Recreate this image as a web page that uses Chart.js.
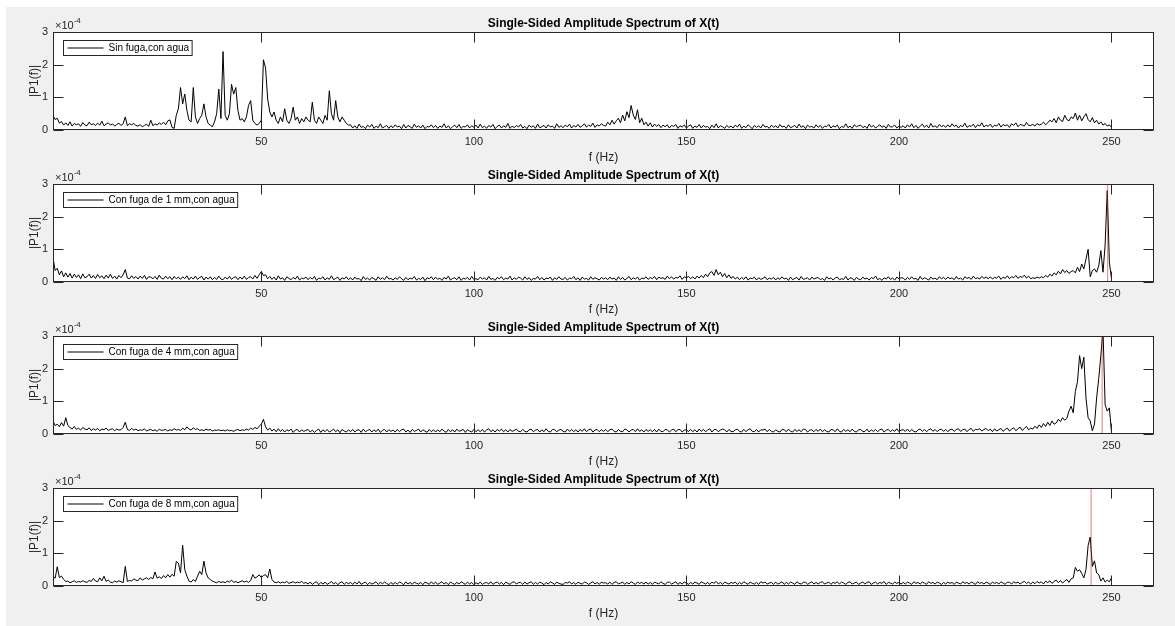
<!DOCTYPE html>
<html>
<head>
<meta charset="utf-8">
<script src="https://cdn.jsdelivr.net/npm/chart.js@4.4.1/dist/chart.umd.min.js"></script>
<style>
  html, body { margin: 0; padding: 0; background: #fff; overflow: hidden; }
  #fig { position: absolute; left: 6px; top: 7px; width: 1169px; height: 619px; background: #f0f0f0; }
  canvas { position: absolute; left: 0; }
</style>
</head>
<body>
<div id="fig"></div>
<canvas id="c0" width="1175" height="170" style="top:0px"></canvas>
<canvas id="c1" width="1175" height="170" style="top:152px"></canvas>
<canvas id="c2" width="1175" height="170" style="top:304px"></canvas>
<canvas id="c3" width="1175" height="170" style="top:456px"></canvas>
<script>
// frequency grid of the spectra (Hz)
const freqStart = 1;
const freqStep = 0.5;

// axis setup
const xMin = 1, xMax = 260;
const xTicks = [50, 100, 150, 200, 250];
const yMax = 30;                 // amplitudes below are in units of 1e-5
const yTicks = [0, 10, 20, 30];  // shown as 0..3 x10^-4

const plotTitle = "Single-Sided Amplitude Spectrum of X(t)";
const legendLabels = [
    "Sin fuga,con agua",
    "Con fuga de 1 mm,con agua",
    "Con fuga de 4 mm,con agua",
    "Con fuga de 8 mm,con agua"
];

// red marker line (Hz) per subplot, none on the first one
const markerFreq = [null, 249.1, 247.8, 245.2];

// |P1(f)| x1e-5, one row = 10 Hz (20 values), starting at 1 Hz
const sinFuga = [
    4.5,3.2,3.6,2.1,2.6,1.5,2.2,1.4,2.5,1.2,2.0,1.6,1.9,1.1,2.3,1.5,1.3,2.4,1.6,1.9,
    1.4,2.1,1.5,2.7,1.3,1.8,2.2,1.5,1.9,1.2,1.7,2.1,1.4,1.9,4.0,1.3,1.9,1.6,2.0,1.4,
    1.2,1.6,1.0,1.4,1.8,1.1,3.0,1.3,1.9,1.5,2.2,1.7,2.4,1.6,2.8,3.1,0.8,0.5,4.5,6.5,
    13,8,11,6,3,2.5,13,4,2,3.5,4.5,8,4,2,1.5,1,2.5,5,12.5,3.5,
    24,4.5,3,5,14,11,13,6,3,3.5,2.5,4,7.5,9,3,2,1.5,2,3,21.5,
    19,9.5,5.5,4,5.5,3,2,4,2.5,6.5,3,2,3.5,7,3,4,2,3.5,2.5,4,
    3,2.5,8.5,3,2,4,3,2,4.5,3,12,5,3,9,4,2.5,4,3,2,1.5,
    1.6,0.6,1.3,0.5,1.8,0.8,1.1,0.4,1.5,0.9,1.7,0.5,1.2,0.7,1.9,0.6,1.0,1.4,0.5,1.3,
    0.7,1.6,0.9,1.2,0.4,1.7,0.6,1.4,1.0,0.5,1.8,0.8,1.3,0.6,1.5,0.4,1.1,0.9,1.6,0.7,
    1.4,0.5,1.2,0.8,1.9,0.6,1.3,0.4,1.0,1.5,0.7,1.7,0.5,1.1,0.9,1.6,0.6,1.3,0.8,1.5,
    0.6,1.8,0.7,1.2,0.5,1.4,0.9,1.7,0.4,1.1,1.5,0.6,1.3,0.8,2.0,0.5,1.2,0.7,1.4,0.9,
    1.7,0.6,1.1,0.4,1.5,0.8,1.3,0.5,1.8,0.7,1.0,1.4,0.6,1.6,0.9,1.2,0.5,1.9,0.8,1.3,
    0.7,1.5,1.0,1.8,0.6,1.4,0.9,1.7,0.8,1.3,1.9,0.9,1.5,1.1,2.1,0.8,1.6,1.2,1.9,1.4,
    1.2,2.4,1.6,3.0,1.8,2.8,3.6,2.2,4.6,2.8,5.6,3.8,7.5,4.6,3.2,6.2,2.2,3.6,1.6,2.4,
    1.2,2.2,0.9,1.8,1.1,1.7,0.7,1.5,1.0,1.6,0.6,1.4,1.1,1.7,0.5,1.3,0.9,1.5,0.6,1.2,
    1.6,0.5,1.2,0.8,1.7,0.6,1.4,0.9,1.1,0.4,1.5,0.7,1.9,0.6,1.3,1.0,0.5,1.4,0.8,1.2,
    0.6,1.5,0.9,1.8,0.5,1.2,0.7,1.6,1.0,0.4,1.4,0.8,1.3,0.6,1.7,0.9,1.1,0.5,1.5,0.8,
    1.3,0.6,1.7,0.9,1.2,0.5,1.6,0.7,1.0,1.4,0.6,1.8,0.8,1.3,0.4,1.5,0.9,1.1,0.6,1.6,
    0.8,1.4,0.5,1.2,1.0,1.7,0.6,1.3,0.9,1.5,0.4,1.1,0.8,1.9,0.7,1.2,0.5,1.6,1.0,1.3,
    1.5,0.7,1.2,0.5,1.8,0.9,1.4,0.6,1.1,1.6,0.8,1.3,0.5,1.7,0.9,1.0,1.5,0.6,1.2,0.8,
    1.3,0.6,1.6,0.9,1.9,0.7,1.4,0.5,1.2,1.8,0.8,1.5,0.6,2.0,0.9,1.3,0.7,1.7,1.0,1.4,
    0.8,1.6,0.9,1.9,1.1,1.5,0.6,1.4,1.0,2.1,0.8,1.3,1.1,1.8,0.7,1.6,1.2,2.2,0.9,1.5,
    1.1,1.8,0.8,1.5,1.2,2.0,0.9,1.7,1.3,1.6,0.8,1.9,1.4,2.2,1.0,1.7,1.5,1.2,2.3,1.4,
    1.4,1.7,1.2,2,1.5,1.8,2.4,1.6,2.2,3,2.5,3.5,2.2,4,3,2.6,4.5,3.2,2.8,4,
    3.5,5.2,3,4.5,2.8,4,5,3.2,2.5,3.8,2.2,3,1.8,2.5,1.5,2,1.2,1.6,0.8
];

const fuga1mm = [
    7.5,3.5,4.2,2.2,3.4,1.6,2.8,1.5,2.6,1.2,2.4,1.4,2.2,1.0,2.5,1.3,1.6,2.4,1.2,2.0,
    1.1,2.3,1.3,1.9,1.0,2.1,1.2,2.4,1.1,1.8,0.9,2.0,1.3,2.2,3.8,1.2,1.0,1.9,1.1,1.7,
    0.9,1.8,1.1,2.0,0.8,1.6,1.5,1.0,1.7,0.8,2.1,1.1,0.9,1.8,1.0,1.6,0.7,1.7,1.0,1.5,
    0.8,1.6,1.0,1.9,0.7,1.5,0.9,1.8,0.8,1.4,1.7,0.6,1.5,0.9,1.6,0.7,1.4,0.8,1.8,0.9,
    0.7,1.5,0.9,1.7,0.8,1.4,1.6,0.7,1.5,0.9,1.8,0.8,1.4,1.6,0.9,2.0,1.1,2.2,3.2,2.0,
    2.2,1.0,1.7,0.8,1.5,0.6,1.9,0.9,1.3,0.5,1.6,1.1,0.7,1.4,0.9,1.8,0.6,1.2,1.0,1.5,
    0.7,1.4,0.9,1.7,0.5,1.2,1.0,1.6,0.6,1.3,0.8,1.9,0.7,1.1,1.5,0.5,1.3,0.9,1.6,0.7,
    1.3,0.6,1.5,0.9,1.1,0.4,1.7,0.8,1.2,0.6,1.4,1.0,0.5,1.6,0.8,1.3,0.7,1.8,0.9,1.1,
    0.6,1.3,0.8,1.6,1.0,0.5,1.4,0.7,1.2,0.9,1.7,0.6,1.1,0.8,1.5,0.4,1.3,1.0,1.6,0.7,
    1.5,0.8,1.2,0.5,1.4,0.9,1.8,0.6,1.1,1.3,0.7,1.6,0.5,1.2,0.9,1.4,0.6,1.7,0.8,1.0,
    0.7,1.5,0.9,1.3,0.6,1.7,0.8,1.1,0.5,1.4,1.0,1.6,0.7,1.2,0.9,1.8,0.6,1.3,0.8,1.5,
    1.2,0.6,1.6,0.8,1.3,0.5,1.1,0.9,1.7,0.7,1.4,0.6,1.2,1.0,1.5,0.5,1.3,0.8,1.6,0.9,
    0.8,1.4,0.6,1.2,1.0,1.7,0.7,1.3,0.5,1.5,0.9,1.1,0.6,1.6,0.8,1.3,1.0,0.6,1.4,0.9,
    1.3,0.7,1.5,0.9,1.2,0.5,1.6,0.8,1.4,0.6,1.1,1.7,0.7,1.3,0.9,1.5,0.6,1.2,1.0,1.6,
    0.8,1.4,1.0,1.7,0.7,1.5,1.1,1.3,0.8,1.8,1.0,1.6,0.9,1.4,1.2,1.9,0.8,1.6,1.3,1.7,
    1.0,1.6,0.9,1.8,1.2,2.0,1.3,2.4,1.6,2.8,3.2,2.0,3.8,2.2,3.0,1.6,2.6,1.3,2.2,1.1,
    1.7,0.9,1.5,0.7,1.4,0.8,1.6,0.6,1.2,1.0,1.5,0.6,1.3,0.8,1.1,1.6,0.7,1.2,0.9,1.4,
    0.6,1.3,0.8,1.6,0.9,1.2,0.5,1.5,0.7,1.1,1.4,0.6,1.7,0.8,1.0,1.3,0.6,1.5,0.9,1.2,
    1.4,0.7,1.1,0.5,1.6,0.9,1.3,0.6,1.2,1.5,0.7,1.0,0.8,1.7,0.6,1.3,1.1,0.5,1.4,0.9,
    0.7,1.5,0.9,1.2,0.6,1.4,1.0,1.8,0.7,1.1,0.5,1.3,0.9,1.6,0.8,1.2,0.6,1.5,1.0,1.3,
    1.2,0.6,1.4,0.8,1.6,0.9,1.1,0.5,1.7,0.8,1.3,1.0,0.6,1.5,0.9,1.2,0.7,1.6,1.0,1.4,
    0.8,1.5,1.0,1.3,0.7,1.7,0.9,1.2,0.6,1.6,1.1,1.4,0.8,1.8,1.0,1.3,0.9,1.7,1.1,1.5,
    1.0,1.6,0.9,1.4,1.2,1.8,0.8,1.5,1.1,1.9,1.0,1.6,1.3,2.0,1.1,1.7,1.4,2.1,1.2,1.8,
    1,1.3,1.1,1.5,1.2,1.6,1.3,2,1.5,2.4,1.8,2.8,2.2,3.3,2.5,3.8,2.9,3.5,2.6,3.2,
    3.5,2.8,4.5,3.2,5.5,4,7,10,1.6,3.5,4,3,5,9.6,3,11.3,28,6,1
];

const fuga4mm = [
    4,2.6,3,2.2,3.5,2.4,5,2.6,2,1.5,2.3,1.4,1.8,1.2,2,1.5,1.3,1.9,1.1,1.6,
    1.2,1.7,1,1.5,1.3,1.8,1.1,1.4,1.6,1,1.5,1.2,1.3,2,3.6,1.4,1.1,1.7,1.2,1.5,
    1,1.3,1.1,1.6,0.9,1.2,1.4,1,1.3,0.8,1.5,1.1,1.2,1.4,0.9,1.3,1.1,1.6,1.2,1.4,
    1.1,1.8,1.3,2.2,1.5,1.2,1.9,1.4,1.6,1.1,1.3,1,1.5,1.2,1.4,0.9,1.2,1.1,1.3,1,
    1.2,0.9,1.3,1,1.1,0.8,1.2,1.4,1,1.3,1.1,1.5,1.2,1.8,1.4,2,1.6,2.4,3,4.5,
    2.2,1.2,1.8,0.9,1.5,0.7,1.6,0.8,1.4,0.6,1.3,0.9,1.5,0.5,1.2,1.4,0.6,1.3,0.8,1.1,
    1.4,0.6,1.2,0.5,1.1,1.5,0.5,1.3,0.7,1.4,0.6,1.0,1.5,0.7,1.3,0.4,1.4,0.9,0.6,1.3,
    0.7,1.4,0.6,1.2,1.3,0.5,1.5,0.7,1.1,1.4,0.6,1.3,0.7,1.5,0.5,1.1,1.4,0.6,1.3,0.8,
    1.2,0.6,1.4,0.7,1.3,1.5,0.6,1.2,0.5,1.4,0.8,1.1,1.5,0.6,1.3,0.9,0.5,1.4,0.7,1.3,
    0.6,1.3,0.7,1.5,0.9,0.5,1.4,0.7,1.3,0.6,1.5,0.8,1.1,1.4,0.5,1.3,0.9,0.6,1.4,0.7,
    1.3,0.7,1.4,0.6,1.2,1.6,0.7,1.3,0.6,1.4,0.9,1.5,0.7,1.3,0.6,1.4,0.8,1.1,1.5,0.8,
    0.7,1.4,0.8,0.6,1.3,1.5,0.7,1.2,1.4,0.6,1.3,0.7,1.6,0.8,0.6,1.4,1.3,0.7,1.2,1.4,
    0.8,0.6,1.5,0.8,1.4,0.7,1.3,0.6,1.4,0.8,1.6,0.7,1.3,1.5,0.6,1.2,1.4,0.7,1.3,0.8,
    1.4,0.7,1.3,1.5,0.8,0.6,1.4,0.8,0.7,1.5,1.3,0.6,1.2,1.4,0.7,1.6,0.8,1.3,0.6,1.4,
    0.8,1.3,0.7,1.4,0.6,1.5,0.8,0.7,1.4,1.3,0.6,1.2,1.5,0.7,1.3,1.4,0.6,1.2,1.3,0.7,
    1.4,0.7,1.3,0.6,1.5,0.8,1.4,0.7,1.2,1.6,0.6,1.3,1.4,0.7,1.2,1.5,1.3,0.6,1.4,0.8,
    0.7,1.3,1.5,0.8,0.6,1.4,0.7,1.3,1.6,0.8,0.7,1.4,0.6,1.3,1.2,1.5,0.7,1.4,0.8,0.6,
    1.3,0.8,0.6,1.4,1.3,0.7,1.5,0.8,0.6,1.4,0.8,1.3,0.7,1.5,1.4,0.6,1.2,1.3,0.7,1.4,
    0.8,1.5,0.7,1.3,0.8,0.6,1.4,1.3,0.7,1.6,0.8,0.6,1.4,0.8,1.3,0.7,1.5,0.8,0.6,1.3,
    1.4,0.7,0.8,1.5,0.6,1.3,0.8,1.4,0.7,1.3,1.5,0.6,1.2,1.4,0.7,1.3,0.8,1.6,0.7,1.2,
    1.3,0.8,1.5,0.7,1.4,0.8,0.6,1.3,1.5,0.8,1.4,0.7,1.3,1.6,0.8,1.4,0.7,1.3,1.5,0.8,
    1.4,0.7,1.3,1.5,0.8,1.4,1.6,0.8,1.3,1.5,0.7,1.4,1.7,0.8,1.5,1.3,1.6,0.9,1.4,1.7,
    1.0,1.5,0.7,1.6,0.9,1.3,1.7,0.8,1.4,1.8,0.9,1.5,1.9,1.0,1.6,2.1,1.1,1.7,2.3,1.3,
    1.8,1.5,2.4,1.7,2.8,2,3.2,2.3,3.6,2.6,4,3,3.4,4.5,3.8,5,4.2,4.8,7,8.5,
    6.5,13,16,24,20,23.5,11,5,4,1,3,11,17,24,32,9,7,8,0.5
];

const fuga8mm = [
    3,2.4,5.9,2.6,3,2,1.4,1.5,1,1.3,1.6,1.1,1.4,1.2,1.6,1.3,1.1,1.7,1.4,2.3,
    1.5,1.3,2.5,1.6,3,1.4,1.8,1.2,1,1.5,1.2,1.6,1.3,1,6,1.4,1.7,1.5,2.2,1.8,
    1.6,2.5,1.8,2.2,2.5,2,2.6,2.2,4.3,2.4,2.8,2.3,3.2,2.5,3.5,2.7,3.6,3,7.5,7,
    4,12.5,5,3,1.5,1.2,2,1.4,3,4.5,3.5,7.6,4,2.5,2,1.5,1.2,1,1.4,1.1,
    1.3,1,1.5,1.2,1.8,1.1,1.4,1,1.3,1.6,1.2,1.5,1.1,1.7,3.5,2.4,2.8,3.4,2.6,3.2,
    3.5,2.5,5.2,2,1.2,1,1.3,0.9,1.2,1,1.4,0.8,1.1,1.3,0.9,1.2,1,1.4,0.8,1.1,
    0.6,1.2,0.5,1.0,1.3,0.4,1.1,0.6,1.2,0.5,0.9,1.4,0.6,1.1,0.4,1.0,1.3,0.5,1.1,0.7,
    1.1,0.5,1.2,0.6,1.4,0.5,0.9,1.2,0.4,1.1,0.6,0.9,1.3,0.5,1.1,0.7,1.2,0.8,0.4,1.1,
    0.5,1.1,0.6,1.2,0.9,0.4,1.3,0.6,1.1,0.5,1.2,0.8,0.6,1.1,0.4,1.2,0.9,0.5,1.3,0.6,
    1.2,0.5,0.9,1.3,0.6,1.1,0.4,1.2,0.8,0.5,1.1,0.6,1.3,0.9,0.5,1.2,0.6,1.1,0.4,1.0,
    0.6,1.2,0.5,0.9,1.1,0.6,1.3,0.5,1.0,1.2,0.6,1.1,0.4,1.2,0.8,0.5,1.1,1.3,0.6,1.0,
    1.1,0.5,1.2,0.6,1.0,1.3,0.5,1.1,0.6,1.2,0.9,0.4,1.1,0.6,1.3,0.9,0.5,1.2,0.8,0.6,
    0.5,1.1,0.9,1.3,0.6,1.1,0.5,1.2,0.8,0.6,1.2,1.0,0.5,0.9,1.3,0.6,1.1,0.5,1.2,0.9,
    1.0,0.6,1.2,0.5,1.1,1.3,0.6,0.9,1.2,0.5,1.1,0.6,1.3,0.9,0.5,1.2,0.8,1.1,0.6,1.2,
    0.6,1.1,0.5,1.2,0.9,0.6,1.3,0.8,0.5,1.1,1.2,0.6,0.9,1.3,0.5,1.1,0.6,1.2,0.9,0.5,
    1.1,0.6,1.2,0.9,0.5,1.3,0.9,0.6,1.1,0.5,1.2,0.8,1.4,0.6,1.1,0.5,1.2,0.9,0.6,1.1,
    0.8,1.2,0.5,1.1,0.6,1.3,0.9,0.5,1.2,0.8,0.6,1.1,0.5,1.3,0.9,1.2,0.6,0.9,1.1,0.5,
    1.2,0.6,0.9,1.3,0.5,1.1,0.6,1.2,0.9,0.5,1.3,0.8,0.6,1.1,1.2,0.5,0.9,1.3,0.6,1.1,
    0.6,1.1,1.3,0.6,0.9,1.2,0.5,1.1,0.8,1.3,0.6,1.2,0.9,0.5,1.1,1.3,0.6,0.9,1.2,0.5,
    0.9,1.2,0.6,1.1,1.3,0.5,0.9,1.2,0.6,1.1,0.8,1.4,0.5,1.1,0.9,0.6,1.2,0.8,1.1,0.6,
    1.1,0.6,1.2,0.9,0.5,1.3,0.8,1.1,0.6,1.2,0.9,0.5,1.3,0.8,1.1,0.6,1.2,0.9,0.5,1.1,
    0.6,1.2,0.8,1.1,0.5,1.2,0.9,0.6,1.3,0.8,1.1,0.6,1.2,0.9,0.5,1.3,0.8,1.1,0.6,1.2,
    0.9,0.5,1.2,0.8,1.1,0.6,1.3,0.9,0.5,1.2,1.1,0.6,1.3,0.9,1.2,0.6,1.1,1.4,0.8,1.2,
    0.6,1.2,0.7,1.4,0.9,1.3,0.6,1.5,1.0,1.6,0.8,1.4,1.8,1.0,1.7,0.9,1.5,2.0,1.1,2.2,
    2.5,5.7,4.5,5,3.8,2.5,5,12.4,15,6,7.7,4,3.5,1.5,2.5,1.2,1.8,1.3,2.5
];

const spectra = [sinFuga, fuga1mm, fuga4mm, fuga8mm];

const fontFamily = 'Arial, "Liberation Sans", Helvetica, sans-serif';
const axisColor = "#262626";
const tickLen = 10;

function toPoints(values) {
    return values.map((v, i) => ({ x: freqStart + i * freqStep, y: v }));
}

// white axes box, inward ticks on all sides, x10^-4 note and boxed legend
const matlabAxes = {
    id: "matlabAxes",
    beforeDraw(chart) {
        const { ctx, chartArea: a } = chart;
        ctx.save();
        ctx.fillStyle = "#fff";
        ctx.fillRect(a.left, a.top, a.right - a.left, a.bottom - a.top);
        ctx.restore();
    },
    afterDraw(chart) {
        const { ctx, chartArea: a, scales } = chart;
        const L = Math.round(a.left) + 0.5, R = Math.round(a.right) - 0.5;
        const T = Math.round(a.top) + 0.5, B = Math.round(a.bottom) - 0.5;
        ctx.save();

        // legend
        const label = chart.data.datasets[0].label;
        ctx.font = "10px " + fontFamily;
        const tw = ctx.measureText(label).width;
        const lx = L + 10, ly = T + 8;
        ctx.fillStyle = "#fff";
        ctx.fillRect(lx, ly, 48 + tw, 15);
        ctx.strokeStyle = axisColor;
        ctx.lineWidth = 1;
        ctx.strokeRect(lx, ly, 48 + tw, 15);
        ctx.beginPath();
        ctx.strokeStyle = "#000";
        ctx.moveTo(lx + 4, ly + 7.5);
        ctx.lineTo(lx + 40, ly + 7.5);
        ctx.stroke();
        ctx.fillStyle = "#000";
        ctx.textBaseline = "middle";
        ctx.textAlign = "left";
        ctx.fillText(label, lx + 45, ly + 8);

        // frame and ticks
        ctx.strokeStyle = axisColor;
        ctx.strokeRect(L, T, R - L, B - T);
        ctx.beginPath();
        xTicks.forEach(v => {
            const px = Math.round(scales.x.getPixelForValue(v)) + 0.5;
            ctx.moveTo(px, B); ctx.lineTo(px, B - tickLen);
            ctx.moveTo(px, T); ctx.lineTo(px, T + tickLen);
        });
        yTicks.forEach(v => {
            const py = Math.round(scales.y.getPixelForValue(v)) + 0.5;
            ctx.moveTo(L, py); ctx.lineTo(L + tickLen, py);
            ctx.moveTo(R, py); ctx.lineTo(R - tickLen, py);
        });
        ctx.stroke();

        // exponent
        ctx.fillStyle = axisColor;
        ctx.textBaseline = "alphabetic";
        ctx.font = "11px " + fontFamily;
        ctx.fillText("\u00d710", a.left + 2, a.top - 3);
        const ew = ctx.measureText("\u00d710").width;
        ctx.font = "8px " + fontFamily;
        ctx.fillText("-4", a.left + 2 + ew, a.top - 9);
        ctx.restore();
    }
};

function makeChart(idx) {
    const datasets = [{
        label: legendLabels[idx],
        data: toPoints(spectra[idx]),
        borderColor: "#000",
        borderWidth: 1,
        pointRadius: 0,
        tension: 0
    }];
    if (markerFreq[idx] !== null) {
        datasets.push({
            label: "",
            data: [{ x: markerFreq[idx], y: 0 }, { x: markerFreq[idx], y: yMax }],
            borderColor: "rgba(210,40,40,0.6)",
            borderWidth: 1,
            pointRadius: 0,
            order: -1
        });
    }

    new Chart(document.getElementById("c" + idx), {
        type: "line",
        data: { datasets: datasets },
        plugins: [matlabAxes],
        options: {
            responsive: false,
            animation: false,
            devicePixelRatio: 1,
            layout: { padding: { top: 0, left: 0, right: 21, bottom: 5 } },
            plugins: {
                legend: { display: false },
                tooltip: { enabled: false },
                title: {
                    display: true,
                    text: plotTitle,
                    fullSize: false,
                    color: "#000",
                    font: { family: fontFamily, size: 12, weight: "bold" },
                    padding: { top: 16, bottom: 1.6 }
                }
            },
            scales: {
                x: {
                    type: "linear",
                    min: xMin,
                    max: xMax,
                    afterBuildTicks: s => { s.ticks = xTicks.map(v => ({ value: v })); },
                    afterFit: s => { s.height = 35; },
                    grid: { display: false, drawTicks: false },
                    border: { display: false },
                    ticks: {
                        padding: 5, maxRotation: 0, autoSkip: false,
                        color: axisColor,
                        font: { family: fontFamily, size: 11 }
                    },
                    title: {
                        display: true, text: "f (Hz)", color: axisColor,
                        font: { family: fontFamily, size: 12 },
                        padding: { top: 0, bottom: 0 }
                    }
                },
                y: {
                    min: 0,
                    max: yMax,
                    afterBuildTicks: s => { s.ticks = yTicks.map(v => ({ value: v })); },
                    afterFit: s => { s.width = 53; },
                    grid: { display: false, drawTicks: false },
                    border: { display: false },
                    ticks: {
                        padding: 5,
                        color: axisColor,
                        font: { family: fontFamily, size: 11 },
                        callback: v => String(v / 10)
                    },
                    title: {
                        display: true, text: "|P1(f)|", color: axisColor,
                        font: { family: fontFamily, size: 12 },
                        padding: { top: 27, bottom: 0 }
                    }
                }
            }
        }
    });
}

for (let i = 0; i < spectra.length; i++) makeChart(i);
</script>
</body>
</html>
